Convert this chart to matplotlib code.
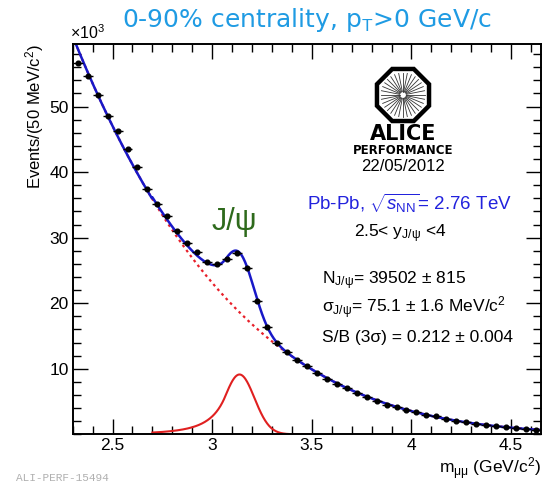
import numpy as np
import matplotlib
matplotlib.use("Agg")
import matplotlib.pyplot as plt
from matplotlib.ticker import MultipleLocator, FixedLocator, FuncFormatter
from matplotlib.patches import RegularPolygon

plt.rcParams['font.family'] = ['Liberation Sans', 'DejaVu Sans']
plt.rcParams['mathtext.fontset'] = 'custom'
plt.rcParams['mathtext.rm'] = 'Liberation Sans'
plt.rcParams['mathtext.it'] = 'Liberation Sans:italic'
plt.rcParams['mathtext.sf'] = 'Liberation Sans'

# dimuon invariant mass spectrum, 50 MeV bins (counts in units of 10^3)
BIN_W = 0.05
mass = np.arange(2.325, 4.626, BIN_W)
counts = np.array([
    56.7, 54.6, 51.7, 48.5, 46.3, 43.5, 40.8, 37.5, 35.2, 33.3,
    31.0, 29.2, 27.8, 26.3, 26.0, 26.8, 27.6, 25.3, 20.4, 16.4,
    14.0, 12.6, 11.4, 10.4, 9.3, 8.4, 7.7, 7.1, 6.3, 5.7,
    5.1, 4.5, 4.15, 3.7, 3.4, 3.0, 2.8, 2.35, 2.1, 1.85,
    1.6, 1.45, 1.25, 1.15, 0.95, 0.8, 0.65,
])
errors = np.sqrt(counts * 1e3) / 1e3

# J/psi signal: Crystal Ball, yield and width as quoted
N_JPSI = 39502
SIGMA_JPSI = 0.0751
M_JPSI = 3.137
CB_ALPHA = 0.95
CB_N = 4.0
SIG_RANGE = (2.7, 3.5)


def cb_shape(m):
    t = (m - M_JPSI) / SIGMA_JPSI
    a = (CB_N / CB_ALPHA) ** CB_N * np.exp(-CB_ALPHA ** 2 / 2)
    b = CB_N / CB_ALPHA - CB_ALPHA
    tail = a * np.abs(b - t) ** (-CB_N)
    return np.where(t > -CB_ALPHA, np.exp(-t ** 2 / 2), tail)


grid = np.linspace(SIG_RANGE[0], SIG_RANGE[1], 2000)
norm = N_JPSI / 1e3 * BIN_W / np.trapezoid(cb_shape(grid), grid)


def signal(m):
    return norm * cb_shape(m)


# background: exp(cubic) fitted to the spectrum with the signal removed
bg_coef = np.polyfit(mass, np.log(counts - signal(mass)), 3)


def background(m):
    return np.exp(np.polyval(bg_coef, m))


W, H = 551, 484
fig = plt.figure(figsize=(W / 100, H / 100), dpi=100)


def fx(x):
    return x / W


def fy(y):
    return 1 - y / H


ax = fig.add_axes([fx(72.7), fy(434.3), fx(541 - 72.7), (434.3 - 44.3) / H])
ax.set_xlim(2.3, 4.65)
ax.set_ylim(0, 59.5)

m_all = np.linspace(2.3, 4.65, 800)
m_sig = np.linspace(SIG_RANGE[0], SIG_RANGE[1], 400)
in_sig = (m_all >= SIG_RANGE[0]) & (m_all <= SIG_RANGE[1])
ax.plot(m_all, background(m_all), color='#e8202a', lw=1.6, ls=(0, (1.2, 1.6)))
ax.plot(m_all, background(m_all) + np.where(in_sig, signal(m_all), 0),
        color='#1818c8', lw=1.8)
ax.plot(m_sig, signal(m_sig), color='#e02020', lw=1.5)
ax.errorbar(mass, counts, xerr=BIN_W / 2, yerr=errors, fmt='o', ms=3.4,
            color='black', elinewidth=1, capsize=0, zorder=5)

ax.xaxis.set_major_locator(MultipleLocator(0.5))
ax.xaxis.set_minor_locator(MultipleLocator(0.1))
ax.xaxis.set_major_formatter(FuncFormatter(lambda v, p: '%g' % v))
ax.yaxis.set_major_locator(FixedLocator([10, 20, 30, 40, 50]))
ax.yaxis.set_minor_locator(MultipleLocator(2))
ax.tick_params(which='both', direction='in', top=True, right=True, width=1,
               labelsize=12.5)
ax.tick_params(which='major', length=11, pad=3)
ax.tick_params(which='minor', length=5.5)
for s in ax.spines.values():
    s.set_linewidth(1.4)

fig.text(fx(35), fy(44), 'Events/(50 MeV/c$^2$)', rotation=90, ha='center',
         va='top', fontsize=12)
fig.text(fx(541), fy(474), r'm$_{\mathrm{\mu\mu}}$ (GeV/c$^2$)', ha='right',
         va='baseline', fontsize=12.5)
fig.text(fx(70), fy(39), r'$\times$10$^3$', ha='left', va='baseline', fontsize=11.5)

fig.text(fx(307), fy(27), '0-90% centrality, p$_\\mathrm{T}$>0 GeV/c',
         ha='center', va='baseline', fontsize=18, color='#1f9be3',
         family='DejaVu Sans')

fig.text(fx(212), fy(230), 'J/ψ', ha='left', va='baseline', fontsize=22,
         color='#2e6a1c')

# ALICE logo
logo = fig.add_axes([fx(369), fy(126), fx(68), 62 / H])
logo.set_xlim(-1.1, 1.1)
logo.set_ylim(-1.1, 1.1)
logo.set_aspect('equal')
logo.axis('off')
logo.add_patch(RegularPolygon((0, 0), 8, radius=1.0, orientation=np.pi / 8,
                              fill=False, lw=3.2, ec='black'))
for ang in np.linspace(0, 2 * np.pi, 32, endpoint=False):
    logo.plot([0.12 * np.cos(ang), 0.78 * np.cos(ang)],
              [0.12 * np.sin(ang), 0.78 * np.sin(ang)], color='#333333', lw=0.6)

fig.text(fx(403), fy(140), 'ALICE', ha='center', va='baseline', fontsize=15,
         weight='bold', family='DejaVu Sans')
fig.text(fx(403), fy(154), 'PERFORMANCE', ha='center', va='baseline',
         fontsize=8.5, weight='bold', family='DejaVu Sans')
fig.text(fx(403), fy(171), '22/05/2012', ha='center', va='baseline', fontsize=12)

fig.text(fx(409), fy(210), r'Pb-Pb, $\sqrt{s_{\mathrm{NN}}}$= 2.76 TeV',
         ha='center', va='baseline', fontsize=13.5, color='#2222dd')
fig.text(fx(400), fy(237), r'2.5< y$_{\mathrm{J/ψ}}$ <4', ha='center',
         va='baseline', fontsize=12.5)
fig.text(fx(322), fy(284), r'N$_{\mathrm{J/ψ}}$= 39502 ± 815', ha='left',
         va='baseline', fontsize=12.5)
fig.text(fx(322), fy(313), r'σ$_{\mathrm{J/ψ}}$= 75.1 ± 1.6 MeV/c$^2$',
         ha='left', va='baseline', fontsize=12.5)
fig.text(fx(322), fy(342), 'S/B (3σ) = 0.212 ± 0.004', ha='left',
         va='baseline', fontsize=12.5)

fig.text(fx(16), fy(481), 'ALI-PERF-15494', ha='left', va='baseline',
         fontsize=8, color='#b0b0b0', family='Liberation Mono')

fig.savefig('out.png', dpi=100)
